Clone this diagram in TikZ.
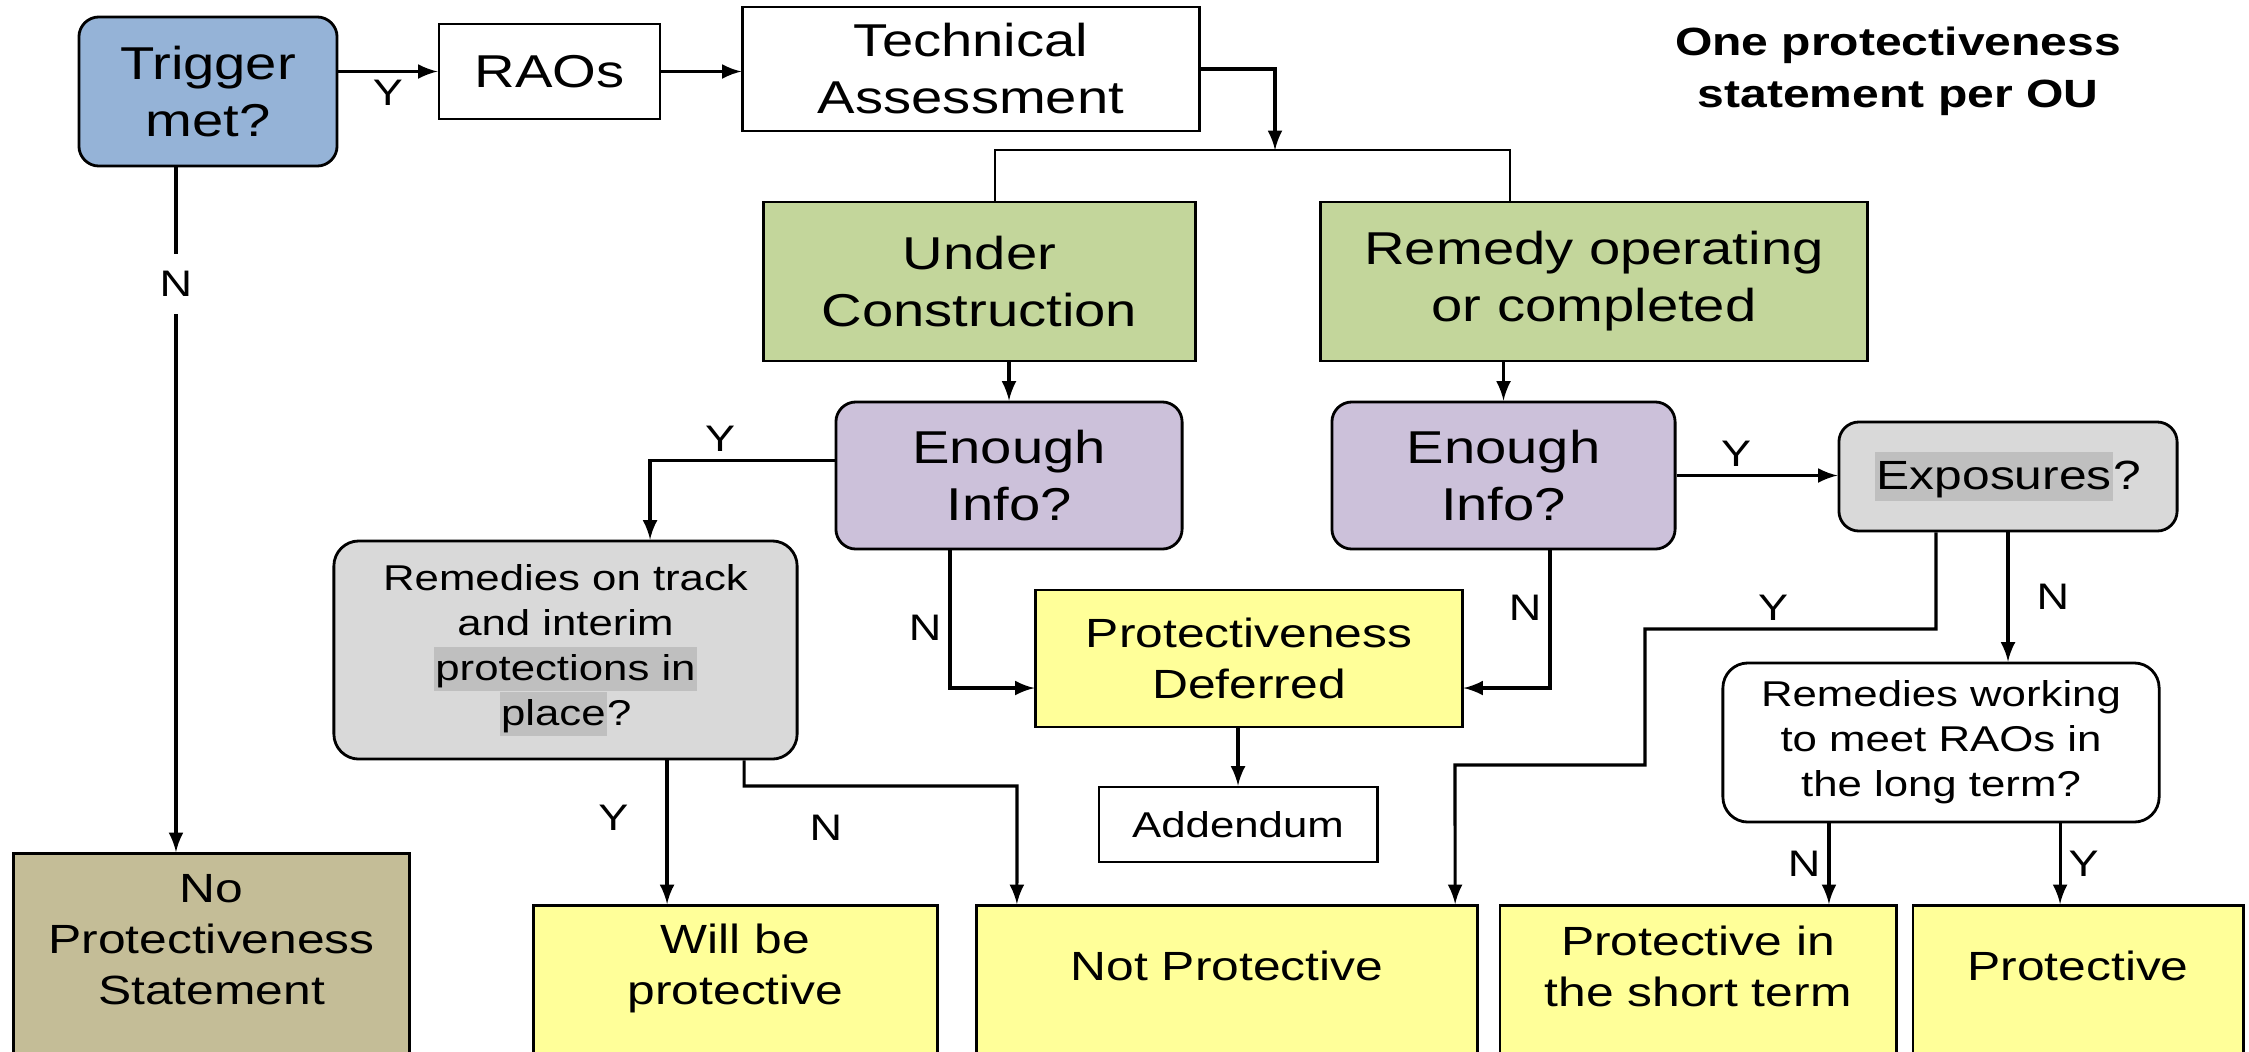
\documentclass[tikz,border=0pt]{standalone}
\usepackage{fontspec}
\setmainfont{Liberation Sans}[FakeStretch=1.22]

\definecolor{trigblue}{HTML}{95B3D7}
\definecolor{phasegreen}{HTML}{C3D69B}
\definecolor{infopurple}{HTML}{CCC1DA}
\definecolor{askgray}{HTML}{D9D9D9}
\definecolor{markgray}{HTML}{BFBFBF}
\definecolor{resultyellow}{HTML}{FFFF99}
\definecolor{notan}{HTML}{C4BD97}

\newcommand{\bigtext}{\fontsize{13.1}{16.2}\selectfont}
\newcommand{\midtext}{\fontsize{11.6}{14.5}\selectfont}
\newcommand{\smalltext}{\fontsize{10.2}{12.8}\selectfont}
\newcommand{\marked}[1]{{\setlength{\fboxsep}{0.4pt}\colorbox{markgray}{\rule[-0.26em]{0pt}{1.15em}#1}}}

\begin{document}
\begin{tikzpicture}[x=0.01cm, y=-0.01cm,
        trigger/.style={rectangle, rounded corners=2mm, draw, fill=trigblue, line width=0.8pt, align=center, font=\bigtext},
        plainbox/.style={rectangle, draw, fill=white, line width=0.8pt, align=center},
        phase/.style={rectangle, draw, fill=phasegreen, line width=0.8pt, align=center, font=\bigtext},
        info/.style={rectangle, rounded corners=2mm, draw, fill=infopurple, line width=0.8pt, align=center, font=\bigtext},
        ask/.style={rectangle, rounded corners=2.5mm, draw, fill=askgray, line width=0.8pt, align=center},
        deferbox/.style={rectangle, draw, fill=resultyellow, line width=0.8pt, align=center, font=\midtext},
        endbox/.style={rectangle, draw, fill=resultyellow, line width=0.8pt, anchor=north, minimum height=20mm},
        nobox/.style={rectangle, draw, fill=notan, line width=0.8pt, anchor=north, minimum height=25mm},
        endtext/.style={align=center, font=\midtext},
        lbl/.style={font=\fontsize{10.5}{12}\selectfont, inner sep=2pt},
        arrow/.style={-latex, line width=0.9pt},
        bus/.style={line width=0.6pt},
    ]
        \clip (0,0) rectangle (2249,1051);

        %Nodes
        \node[trigger, minimum width=25.8mm, minimum height=14.9mm] (trigger) at (208,91.5) {Trigger\\met?};
        \node[plainbox, font=\bigtext, minimum width=22.1mm, minimum height=9.5mm] (raos) at (549.5,71.5) {RAOs};
        \node[plainbox, font=\bigtext, minimum width=45.6mm, minimum height=12.4mm] (tech) at (971,69) {Technical\\Assessment};
        \node[align=center, font=\bfseries\fontsize{11.2}{14.7}\selectfont] (title) at (1898,71) {One protectiveness\\statement per OU};

        \node[phase, minimum width=43.1mm, minimum height=15.9mm] (under) at (979.5,281.5) {Under\\Construction};
        \node[phase, minimum width=54.6mm, minimum height=15.9mm] (remedy) at (1594,281.5) {Remedy operating\\or completed};

        \node[info, minimum width=34.6mm, minimum height=14.7mm] (info1) at (1009,475.5) {Enough\\Info?};
        \node[info, minimum width=34.3mm, minimum height=14.7mm] (info2) at (1503.5,475.5) {Enough\\Info?};
        \node[ask, font=\midtext, rounded corners=2mm, minimum width=33.8mm, minimum height=10.9mm] (exposures) at (2008,476.5) {\marked{Exposures}?};

        \node[ask, font=\smalltext, minimum width=46.3mm, minimum height=21.8mm] (ontrack) at (565.5,650) {Remedies on track\\and interim\\\marked{protections in}\\\marked{place}?};
        \node[deferbox, minimum width=42.6mm, minimum height=13.7mm] (deferred) at (1249,658.5) {Protectiveness\\Deferred};
        \node[plainbox, font=\smalltext, minimum width=27.8mm, minimum height=7.5mm] (addendum) at (1238,824.5) {Addendum};
        \node[plainbox, rounded corners=2.5mm, font=\smalltext, minimum width=43.6mm, minimum height=15.9mm] (working) at (1941,742.5) {Remedies working\\to meet RAOs in\\the long term?};

        \node[nobox, minimum width=39.5mm] (nostate) at (211.5,852) {};
        \node[endbox, minimum width=40.3mm] (willbe) at (735.5,904) {};
        \node[endbox, minimum width=50mm] (notprot) at (1227,904) {};
        \node[endbox, minimum width=39.6mm] (shortterm) at (1698,904) {};
        \node[endbox, minimum width=33mm] (protective) at (2078,904) {};

        \node[endtext] (nostateText) at (211.5,940) {No\\Protectiveness\\Statement};
        \node[endtext] (willbeText) at (735.5,968) {Will be\\protective};
        \node[endtext] (notprotText) at (1227,966) {Not Protective};
        \node[endtext] (shorttermText) at (1698,966) {Protective in\\the short term};
        \node[endtext] (protectiveText) at (2078,966) {Protective};

        \coordinate (busjoin) at (1275,150);
        \coordinate (busL) at (995,150);
        \coordinate (busR) at (1510,150);
        \coordinate (expbend1) at (1645,629);
        \coordinate (expbend2) at (1455,765);
        \coordinate (ntbend) at (1017,786);

        %Lines
        \draw[arrow] (raos.west -| trigger.east) -- (raos.west) node[lbl, midway, below] {Y};
        \draw[arrow] (raos.east) -- (raos.east -| tech.west);
        \draw[arrow] (tech.east) -| (busjoin);
        \draw[bus] (busL |- under.north) -- (busL) -- (busR) -- (busR |- remedy.north);

        \draw[arrow] ([xshift=-3.2mm]trigger.south) -- ([xshift=-3.2mm]trigger.south |- nostate.north) node[lbl, pos=0.17, fill=white, inner sep=5pt] {N};

        \draw[arrow] (info1.north |- under.south) -- (info1.north);
        \draw[arrow] (info2.north |- remedy.south) -- (info2.north);

        \draw[arrow] ([yshift=1.5mm]info1.west) -| ([xshift=8.45mm]ontrack.north) node[lbl, pos=0.31, above] {Y};
        \draw[arrow] ([xshift=-5.9mm]info1.south) |- ([yshift=-2.95mm]deferred.west) node[lbl, pos=0.28, left] {N};
        \draw[arrow] ([xshift=4.65mm]info2.south) |- ([yshift=-2.95mm]deferred.east) node[lbl, pos=0.21, left] {N};
        \draw[arrow] (addendum.north |- deferred.south) -- (addendum.north);

        \draw[arrow] (info2.east) -- (info2.east -| exposures.west) node[lbl, pos=0.37, above] {Y};
        \draw[arrow] ([xshift=-7.2mm]exposures.south) |- (expbend1) node[lbl, pos=0.78, above] {Y} |- (expbend2) -- ([xshift=22.8mm]notprot.north);
        \draw[arrow] (exposures.south) -- (exposures.south |- working.north) node[lbl, midway, right=2mm] {N};

        \draw[arrow] ([xshift=-11.2mm]working.south) -- ([xshift=-11.2mm]working.south |- shortterm.north) node[lbl, midway, left] {N};
        \draw[arrow] ([xshift=11.9mm]working.south) -- ([xshift=11.9mm]working.south |- protective.north) node[lbl, midway, right] {Y};

        \draw[arrow] ([xshift=10.15mm]ontrack.south) -- ([xshift=10.15mm]ontrack.south |- willbe.north) node[lbl, pos=0.4, left=3mm] {Y};
        \draw[arrow] ([xshift=17.85mm]ontrack.south) |- (ntbend) node[lbl, pos=0.65, below=2mm] {N} -- ([xshift=-21mm]notprot.north);
    \end{tikzpicture}
\end{document}
